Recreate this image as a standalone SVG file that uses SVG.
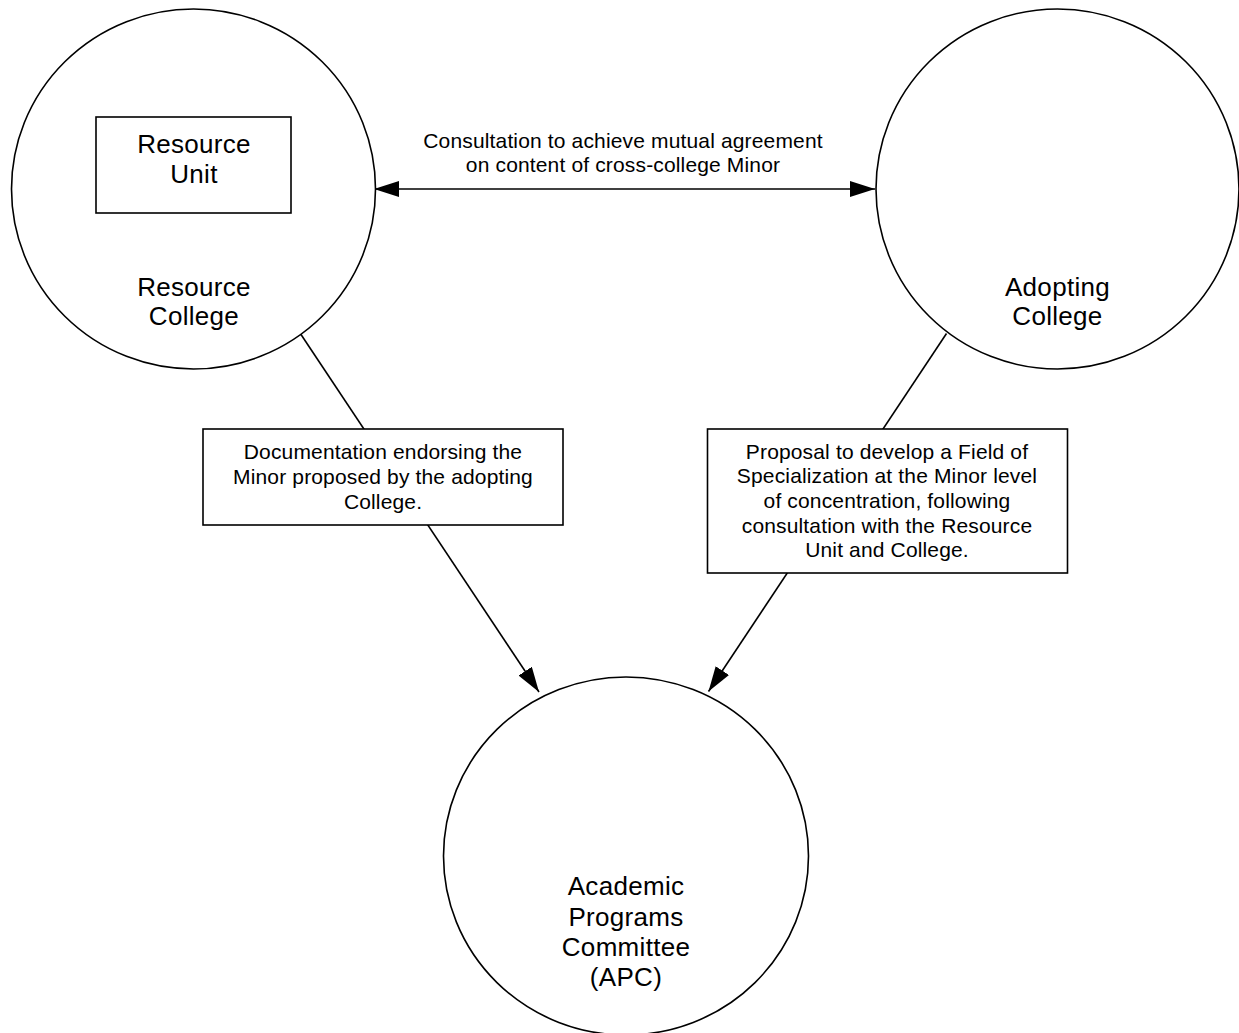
<svg xmlns="http://www.w3.org/2000/svg" width="1239" height="1033" viewBox="0 0 1239 1033">
<style>
.shape{fill:#fff;stroke:#000;stroke-width:1.6}
.conn{fill:none;stroke:#000;stroke-width:1.6}
.big{font-family:"Liberation Sans",Arial,sans-serif;font-size:26px;letter-spacing:0.3px;fill:#000;text-anchor:middle}
.small{font-family:"Liberation Sans",Arial,sans-serif;font-size:21px;letter-spacing:0.15px;fill:#000;text-anchor:middle}
</style>
<defs>
<marker id="arrow" markerUnits="userSpaceOnUse" markerWidth="26" markerHeight="17" refX="25" refY="8" orient="auto-start-reverse">
<path d="M0,0 L25,8 L0,16 Z" fill="#000"/>
</marker>
</defs>
<rect width="1239" height="1033" fill="#fff"/>
<g id="connectors">
<line class="conn" x1="300" y1="333" x2="539" y2="692" marker-end="url(#arrow)"/>
<line class="conn" x1="946.5" y1="333.5" x2="708.5" y2="691.5" marker-end="url(#arrow)"/>
<line class="conn" x1="374" y1="189" x2="875" y2="189" marker-start="url(#arrow)" marker-end="url(#arrow)"/>
<text class="small" x="623" y="148">Consultation to achieve mutual agreement</text>
<text class="small" x="623" y="172">on content of cross-college Minor</text>
</g>
<g id="resource-college">
<ellipse class="shape" cx="193.5" cy="189" rx="182" ry="180"/>
<text class="big" x="194" y="296">Resource</text>
<text class="big" x="194" y="325">College</text>
</g>
<g id="resource-unit">
<rect class="shape" x="96" y="117" width="195" height="96"/>
<text class="big" x="194" y="153">Resource</text>
<text class="big" x="194" y="183">Unit</text>
</g>
<g id="adopting-college">
<ellipse class="shape" cx="1057.5" cy="189" rx="181.5" ry="180"/>
<text class="big" x="1057.5" y="296">Adopting</text>
<text class="big" x="1057.5" y="325">College</text>
</g>
<g id="apc">
<ellipse class="shape" cx="626" cy="856" rx="182.5" ry="179"/>
<text class="big" x="626" y="895">Academic</text>
<text class="big" x="626" y="926">Programs</text>
<text class="big" x="626" y="956">Committee</text>
<text class="big" x="626" y="986">(APC)</text>
</g>
<g id="documentation-box">
<rect class="shape" x="203" y="429" width="360" height="96"/>
<text class="small" x="383" y="459">Documentation endorsing the</text>
<text class="small" x="383" y="484">Minor proposed by the adopting</text>
<text class="small" x="383" y="508.5">College.</text>
</g>
<g id="proposal-box">
<rect class="shape" x="707.5" y="429" width="360" height="144"/>
<text class="small" x="887" y="458.5">Proposal to develop a Field of</text>
<text class="small" x="887" y="483">Specialization at the Minor level</text>
<text class="small" x="887" y="508">of concentration, following</text>
<text class="small" x="887" y="532.5">consultation with the Resource</text>
<text class="small" x="887" y="557">Unit and College.</text>
</g>
</svg>
